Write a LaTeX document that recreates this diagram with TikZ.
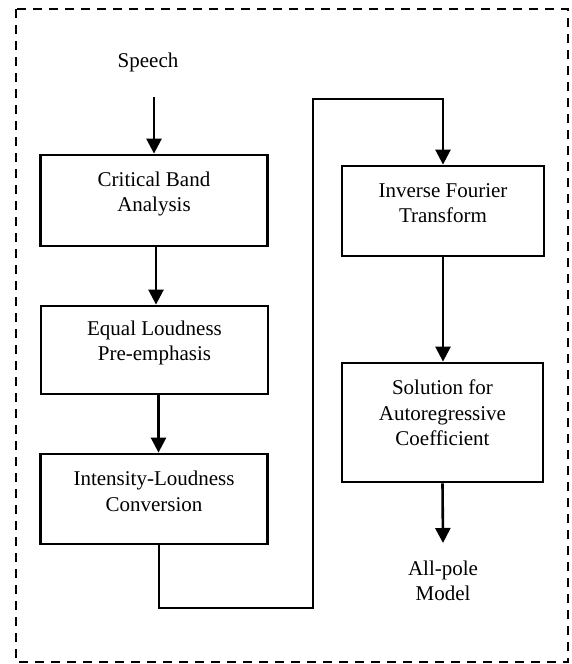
\documentclass[tikz,border=0pt]{standalone}
\usepackage{fontspec}
\setmainfont{Liberation Serif}
\usetikzlibrary{positioning,arrows.meta}

\begin{document}
\begin{tikzpicture}[x=1pt,y=-1pt,
  blk/.style={draw,line width=2.8pt,minimum width=227pt,inner sep=0pt},
  lbl/.style={align=center,inner sep=0pt,font=\fontsize{21}{25.5}\selectfont},
  flow/.style={line width=2.6pt,-{Triangle[length=15pt,width=15pt]}}]
\useasboundingbox (0,0) rectangle (571,664);
\draw[line width=2.4pt,dash pattern=on 9pt off 7pt] (16,9) rectangle (568,662);
% left column
\node[lbl] (speech) at (148,62) {Speech};
\coordinate (speechtail) at (154,97);
\node[blk,minimum height=91pt] (cba) at (154,200.5) {};
\node[lbl] (cbatext) at (154,194) {Critical Band\\Analysis};
\node[blk,minimum height=88pt] (elp) at (154.5,350) {};
\node[lbl] (elptext) at (154.5,343) {Equal Loudness\\Pre-emphasis};
\node[blk,minimum height=90pt] (ilc) at (154,499) {};
\node[lbl] (ilctext) at (154,491.5) {Intensity-Loudness\\Conversion};
% right column
\node[blk,minimum width=202pt,minimum height=90pt] (ift) at (443,211) {};
\node[lbl] (ifttext) at (443,203) {Inverse Fourier\\Transform};
\node[blk,minimum width=201pt,minimum height=119pt] (sac) at (442.5,422.5) {};
\node[lbl] (sactext) at (442.5,413) {Solution for\\Autoregressive\\Coefficient};
\node[lbl] (apm) at (443,581) {All-pole\\Model};
\coordinate (apmtip) at (443,543);
% connectors
\draw[flow] (speechtail) -- (speechtail |- cba.north);
\draw[flow] ([xshift=2pt]cba.south) -- ([xshift=2pt]cba.south |- elp.north);
\draw[flow] ([xshift=4pt]elp.south) -- ([xshift=4pt]elp.south |- ilc.north);
\coordinate (lowturn) at (313,608);
\coordinate (highturn) at (313,99);
\draw[flow] ([xshift=5pt]ilc.south) |- (lowturn) -- (highturn) -| (ift.north);
\draw[flow] (ift.south) -- (ift.south |- sac.north);
\draw[flow] (sac.south) -- (apmtip);
\end{tikzpicture}
\end{document}
